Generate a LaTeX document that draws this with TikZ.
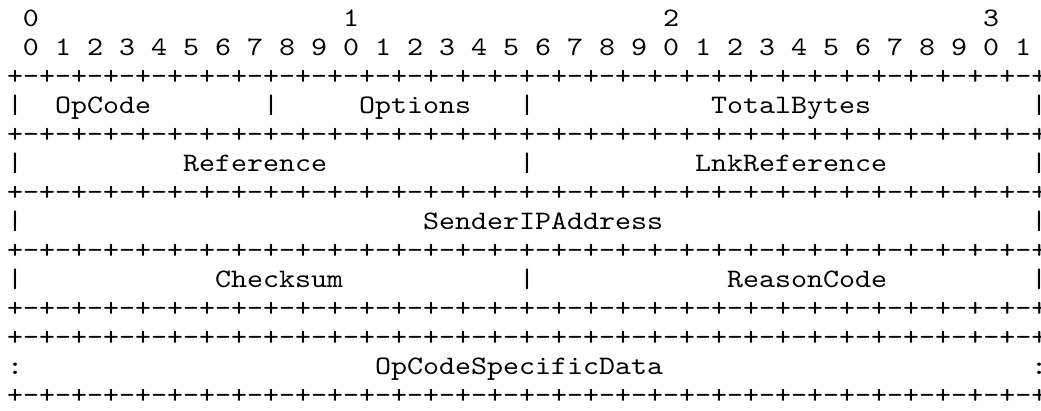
\documentclass[tikz,border=0pt]{standalone}
\usepackage{fontspec}
\setmonofont{lmmono10-regular.otf}[FakeStretch=1.143]
\usepackage{tikz}
\tikzset{
  % one character cell of the ASCII drawing
  chr/.style={
    font=\fontsize{26.67pt}{29pt}\selectfont\ttfamily,
    inner sep=0pt,
    outer sep=0pt,
    anchor=base west
  },
}
% separator line: "+" and 32 times "-+"
\newcommand{\eightbits}{-+-+-+-+-+-+-+-+}
\newcommand{\sepline}{+\eightbits\eightbits\eightbits\eightbits}

\begin{document}
\begin{tikzpicture}[x=1pt, y=1pt]
    \useasboundingbox (0,0) rectangle (1041,-410);

    % Bit numbers
    \foreach \t in {0,...,3}
        \node[chr] (ten\t) at ({7+16*(20*\t+1)}, -26) {\t};
    \foreach \b in {0,...,31} {
        \pgfmathtruncatemacro{\d}{mod(\b,10)}
        \node[chr] (bit\b) at ({7+16*(2*\b+1)}, -55) {\d};
    }

    % Separator lines
    \foreach \r in {2,4,6,8,10,11,13}
        \node[chr] (sep\r) at (7, {-(26+29*\r)}) {\sepline};

    % Word 1
    \foreach \c in {0,16,32,64}
        \node[chr] (bar3-\c) at ({7+16*\c}, -113) {|};
    \node[chr] (opcode) at ({7+16*3}, -113) {OpCode};
    \node[chr] (options) at ({7+16*22}, -113) {Options};
    \node[chr] (totalbytes) at ({7+16*44}, -113) {TotalBytes};

    % Word 2
    \foreach \c in {0,32,64}
        \node[chr] (bar5-\c) at ({7+16*\c}, -171) {|};
    \node[chr] (reference) at ({7+16*11}, -171) {Reference};
    \node[chr] (lnkreference) at ({7+16*43}, -171) {LnkReference};

    % Word 3
    \foreach \c in {0,64}
        \node[chr] (bar7-\c) at ({7+16*\c}, -229) {|};
    \node[chr] (senderip) at ({7+16*26}, -229) {SenderIPAddress};

    % Word 4
    \foreach \c in {0,32,64}
        \node[chr] (bar9-\c) at ({7+16*\c}, -287) {|};
    \node[chr] (checksum) at ({7+16*13}, -287) {Checksum};
    \node[chr] (reasoncode) at ({7+16*45}, -287) {ReasonCode};

    % Variable part
    \foreach \c in {0,64}
        \node[chr] (dots12-\c) at ({7+16*\c}, -374) {:};
    \node[chr] (specdata) at ({7+16*23}, -374) {OpCodeSpecificData};
\end{tikzpicture}
\end{document}
